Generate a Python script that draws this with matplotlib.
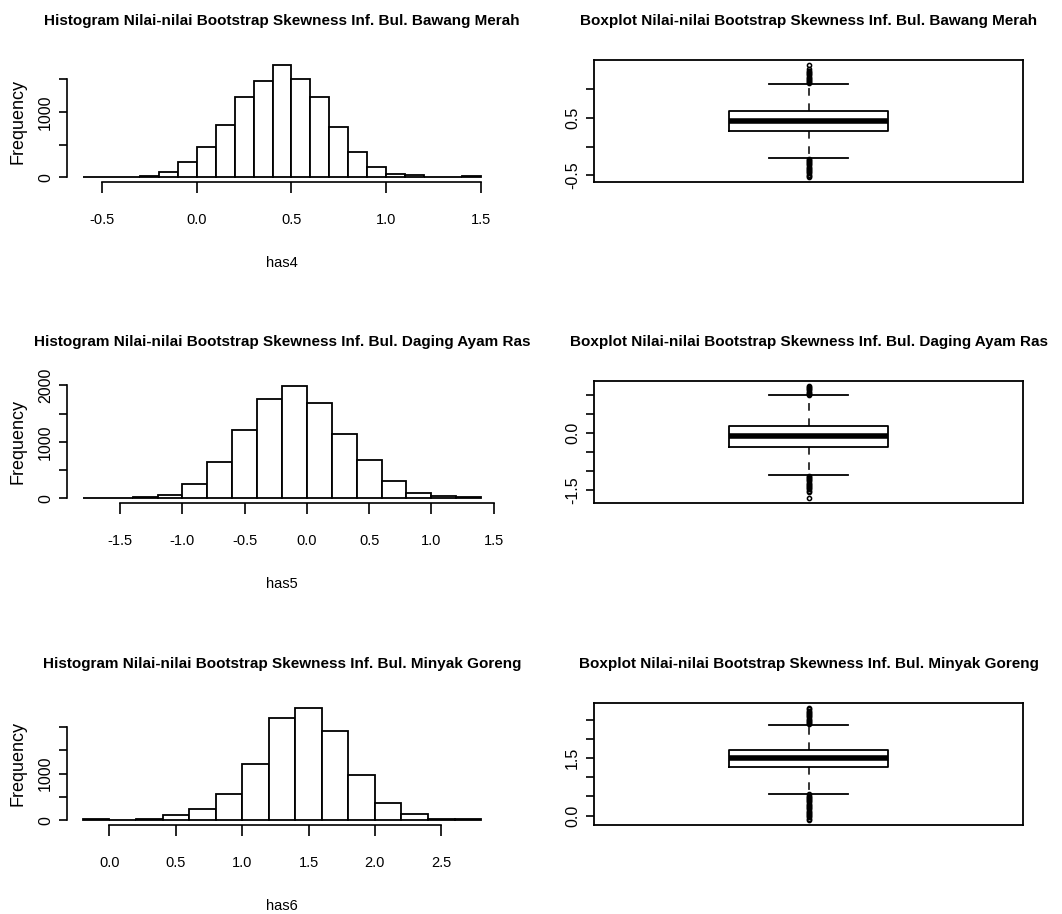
import numpy as np
import matplotlib
matplotlib.use('Agg')
import matplotlib.pyplot as plt
from matplotlib.transforms import Bbox

# ---------------------------------------------
# data
# ---------------------------------------------

edges4 = [-0.6, -0.5, -0.4, -0.3, -0.2, -0.1, 0.0, 0.1, 0.2, 0.3, 0.4, 0.5,
          0.6, 0.7, 0.8, 0.9, 1.0, 1.1, 1.2, 1.3, 1.4, 1.5]
counts4 = [12, 10, 14, 20, 82, 236, 472, 795, 1220, 1477, 1723, 1508,
           1220, 770, 395, 164, 56, 36, 5, 4, 20]

edges5 = [-1.8, -1.6, -1.4, -1.2, -1.0, -0.8, -0.6, -0.4, -0.2, 0.0, 0.2,
          0.4, 0.6, 0.8, 1.0, 1.2, 1.4]
counts5 = [12, 10, 30, 70, 255, 652, 1204, 1755, 1998, 1690, 1145, 682,
           314, 100, 40, 20]

edges6 = [-0.2, 0.0, 0.2, 0.4, 0.6, 0.8, 1.0, 1.2, 1.4, 1.6, 1.8, 2.0, 2.2,
          2.4, 2.6, 2.8]
counts6 = [30, 5, 25, 110, 236, 571, 1193, 2185, 2406, 1900, 971, 378, 128,
           40, 30]

xticks4 = [-0.5, 0.0, 0.5, 1.0, 1.5]
xticks5 = [-1.5, -1.0, -0.5, 0.0, 0.5, 1.0, 1.5]
xticks6 = [0.0, 0.5, 1.0, 1.5, 2.0, 2.5]

yticks4 = [0, 500, 1000, 1500]
ylabels4 = ['0', '', '1000', '']
yticks5 = [0, 500, 1000, 1500, 2000]
ylabels5 = ['0', '', '1000', '', '2000']
yticks6 = [0, 500, 1000, 1500, 2000]
ylabels6 = ['0', '', '1000', '', '']

# boxplot stats: q1, median, q3, lower whisker, upper whisker
box4 = dict(q1=0.264, med=0.448, q3=0.626, whislo=-0.201, whishi=1.098)
box5 = dict(q1=-0.368, med=-0.088, q3=0.175, whislo=-1.123, whishi=1.0)
box6 = dict(q1=1.277, med=1.5, q3=1.723, whislo=0.566, whishi=2.374)

fliers4 = [1.10, 1.12, 1.14, 1.16, 1.18, 1.20, 1.22, 1.24, 1.26, 1.28, 1.30,
           1.32, 1.35, 1.43,
           -0.21, -0.23, -0.25, -0.27, -0.29, -0.31, -0.33, -0.35, -0.37,
           -0.39, -0.41, -0.43, -0.45, -0.47, -0.49, -0.51, -0.54]
fliers5 = [1.0, 1.03, 1.06, 1.09, 1.12, 1.15, 1.18, 1.21, 1.25,
           -1.13, -1.16, -1.19, -1.22, -1.25, -1.28, -1.31, -1.34, -1.37,
           -1.40, -1.43, -1.46, -1.49, -1.52, -1.56, -1.73]
fliers6 = [2.38, 2.41, 2.44, 2.47, 2.50, 2.53, 2.56, 2.59, 2.62, 2.65, 2.68,
           2.71, 2.74, 2.77, 2.82,
           0.55, 0.52, 0.49, 0.46, 0.43, 0.40, 0.37, 0.34, 0.31, 0.28, 0.25,
           0.22, 0.19, 0.16, 0.13, 0.10, 0.07, 0.04, 0.01, -0.02, -0.05,
           -0.08, -0.13]

boxticks4 = [-0.5, 0.0, 0.5, 1.0]
boxlabels4 = ['-0.5', '', '0.5', '']
boxticks5 = [-1.5, -1.0, -0.5, 0.0, 0.5, 1.0]
boxlabels5 = ['-1.5', '', '', '0.0', '', '']
boxticks6 = [0.0, 0.5, 1.0, 1.5, 2.0, 2.5]
boxlabels6 = ['0.0', '', '', '1.5', '', '']

items = ['Bawang Merah', 'Daging Ayam Ras', 'Minyak Goreng']
xnames = ['has4', 'has5', 'has6']

# ---------------------------------------------
# layout (pixels)
# ---------------------------------------------
W, H = 1062, 914
my_dpi = 100
font = ['Liberation Sans', 'DejaVu Sans']
PT = 72.0 / my_dpi

rows = [(60, 182), (381, 503), (703, 825)]
hist_x = (67, 497)
box_x = (594, 1023)
col_w = W / 2.0


def px_axes(fig, x0, x1, y0, y1):
    return fig.add_axes([x0 / W, 1 - y1 / H, (x1 - x0) / W, (y1 - y0) / H])


def add_title(ax, text, col):
    t = ax.annotate(text, xy=(0.5, 1), xycoords='axes fraction',
                    xytext=(0, 39 * PT), textcoords='offset points',
                    ha='center', va='center', fontsize=11, fontweight='bold',
                    family=font, annotation_clip=False)
    # titles are clipped to their own column, like R's figure region
    t.set_clip_box(Bbox([[col * col_w, 0], [(col + 1) * col_w, H]]))
    t.set_clip_on(True)


def draw_hist(ax, edges, counts, xticks, yticks, ylabels, title, xname):
    edges = np.asarray(edges)
    counts = np.asarray(counts)
    ax.bar(edges[:-1], counts, width=np.diff(edges), align='edge',
           facecolor='white', edgecolor='black', linewidth=1.3)
    span = edges[-1] - edges[0]
    ax.set_xlim(edges[0] - 0.04 * span, edges[-1] + 0.04 * span)
    ax.set_ylim(-0.04 * counts.max(), 1.04 * counts.max())

    for s in ['top', 'right']:
        ax.spines[s].set_visible(False)
    for s in ['left', 'bottom']:
        ax.spines[s].set_linewidth(1.2)

    ax.set_xticks(xticks)
    ax.set_xticklabels(['%.1f' % t for t in xticks], family=font, fontsize=10.5)
    ax.spines['bottom'].set_bounds(xticks[0], xticks[-1])
    ax.set_yticks(yticks)
    ax.set_yticklabels(ylabels, rotation=90, va='center', family=font, fontsize=11.5)
    ax.spines['left'].set_bounds(yticks[0], yticks[-1])
    ax.tick_params(axis='x', length=8, width=1.2, pad=14)
    ax.tick_params(axis='y', length=6, width=1.2, pad=4)

    add_title(ax, title, 0)
    ax.annotate(xname, xy=(0.5, 0), xycoords='axes fraction',
                xytext=(0, -81 * PT), textcoords='offset points',
                ha='center', va='center', fontsize=10.5, family=font,
                annotation_clip=False)
    ax.annotate('Frequency', xy=(0, 0.5), xycoords='axes fraction',
                xytext=(-49 * PT, 0), textcoords='offset points',
                ha='center', va='center', rotation=90, fontsize=13,
                family=font, annotation_clip=False)


def draw_box(ax, stats, fliers, yticks, ylabels, title):
    st = dict(stats)
    st['fliers'] = np.asarray(fliers)
    ax.bxp([st], positions=[1], widths=0.4, capwidths=0.2, showfliers=True,
           boxprops=dict(color='black', linewidth=1.3),
           medianprops=dict(color='black', linewidth=4, solid_capstyle='butt'),
           whiskerprops=dict(color='black', linewidth=1.1, linestyle=(0, (5, 5))),
           capprops=dict(color='black', linewidth=1.3),
           flierprops=dict(marker='o', markersize=3, markerfacecolor='none',
                           markeredgecolor='black', markeredgewidth=1.1))
    lo = min(min(fliers), stats['whislo'])
    hi = max(max(fliers), stats['whishi'])
    span = hi - lo
    ax.set_xlim(0.46, 1.54)
    ax.set_ylim(lo - 0.04 * span, hi + 0.04 * span)
    for s in ax.spines.values():
        s.set_linewidth(1.3)
    ax.set_xticks([])
    ax.set_yticks(yticks)
    ax.set_yticklabels(ylabels, rotation=90, va='center', family=font, fontsize=11.5)
    ax.tick_params(axis='y', length=6, width=1.2, pad=4)
    add_title(ax, title, 1)


fig = plt.figure(figsize=(W / my_dpi, H / my_dpi), dpi=my_dpi)

hist_data = [(edges4, counts4, xticks4, yticks4, ylabels4),
             (edges5, counts5, xticks5, yticks5, ylabels5),
             (edges6, counts6, xticks6, yticks6, ylabels6)]
box_data = [(box4, fliers4, boxticks4, boxlabels4),
            (box5, fliers5, boxticks5, boxlabels5),
            (box6, fliers6, boxticks6, boxlabels6)]

for i, (y0, y1) in enumerate(rows):
    ax = px_axes(fig, hist_x[0], hist_x[1], y0, y1)
    e, c, xt, yt, yl = hist_data[i]
    draw_hist(ax, e, c, xt, yt, yl,
              'Histogram Nilai-nilai Bootstrap Skewness Inf. Bul. ' + items[i],
              xnames[i])

    ax = px_axes(fig, box_x[0], box_x[1], y0, y1)
    st, fl, yt, yl = box_data[i]
    draw_box(ax, st, fl, yt, yl,
             'Boxplot Nilai-nilai Bootstrap Skewness Inf. Bul. ' + items[i])

fig.savefig('out.png', dpi=my_dpi)
